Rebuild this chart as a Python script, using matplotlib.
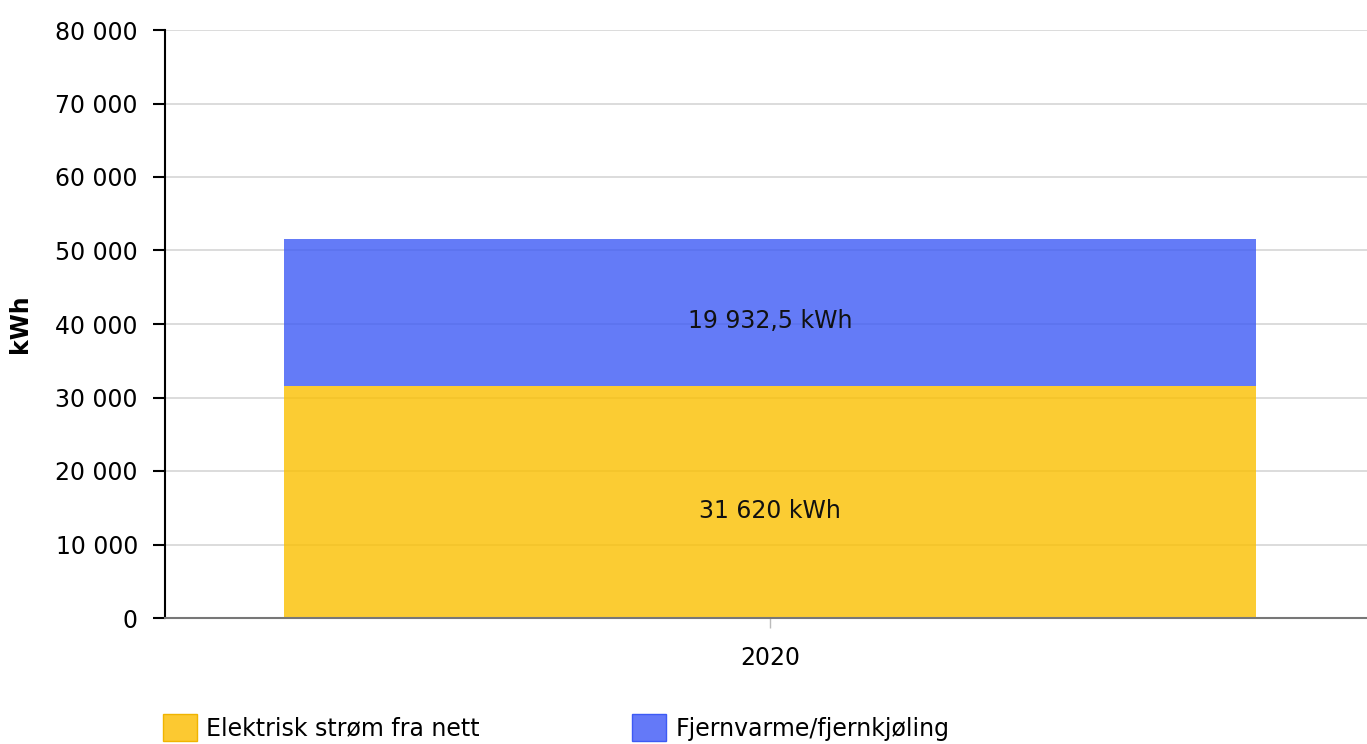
import matplotlib as _mpl
_mpl.use("Agg")
import matplotlib.pyplot as plt
from matplotlib.ticker import FuncFormatter

categories = ["2020"]
series_names = ["Elektrisk strøm fra nett", "Fjernvarme/fjernkjøling"]
elektrisk = [31620]
fjernvarme = [19932.5]
y_ticks = [0, 10000, 20000, 30000, 40000, 50000, 60000, 70000, 80000]


def fmt_no(v, decimals=None):
    if decimals is None:
        decimals = 0 if float(v).is_integer() else 1
    s = f"{v:,.{decimals}f}"
    return s.replace(",", " ").replace(".", ",")


plt.rcParams["font.family"] = ["DejaVu Sans"]
plt.rcParams["font.size"] = 17

fig = plt.figure(figsize=(13.67, 7.44), dpi=100)
ax = fig.add_axes([165 / 1367, 1 - 618 / 744, 1210 / 1367, 588 / 744])

xs = list(range(len(categories)))
ax.bar(xs, elektrisk, width=0.8025, color="#fbc000", alpha=0.8,
       label=series_names[0], zorder=1)
ax.bar(xs, fjernvarme, width=0.8025, bottom=elektrisk, color="#3d5af5",
       alpha=0.8, label=series_names[1], zorder=1)

for x, v1, v2 in zip(xs, elektrisk, fjernvarme):
    ax.annotate(fmt_no(v1) + " kWh", (x, v1 / 2), xytext=(0, -6.5),
                textcoords="offset points", ha="center", va="center",
                fontsize=17, color="#111111", zorder=3)
    ax.annotate(fmt_no(v2) + " kWh", (x, v1 + v2 / 2), xytext=(0, -6.5),
                textcoords="offset points", ha="center", va="center",
                fontsize=17, color="#111111", zorder=3)

ax.set_xlim(-0.5, 0.5)
ax.set_ylim(0, 80000)
ax.set_xticks(xs)
ax.set_xticklabels(categories)
ax.set_yticks(y_ticks)
ax.yaxis.set_major_formatter(FuncFormatter(lambda v, p: fmt_no(v, 0)))

ax.grid(axis="y", color="#d9d9d9", linewidth=1.3, zorder=0)
ax.set_axisbelow(True)
for side in ("top", "right"):
    ax.spines[side].set_visible(False)
ax.spines["left"].set_color("black")
ax.spines["left"].set_linewidth(1.5)
ax.spines["bottom"].set_color("#777777")
ax.spines["bottom"].set_linewidth(1.5)
ax.tick_params(axis="y", length=9, width=1.5, color="black", pad=10.5)
ax.tick_params(axis="x", length=7, width=1, color="#bbbbbb", pad=13)

ax.set_ylabel("kWh", fontweight="bold", fontsize=17, labelpad=17)

handles = [plt.Rectangle((0, 0), 1, 1, facecolor="#fcc931", edgecolor="#f0b400"),
           plt.Rectangle((0, 0), 1, 1, facecolor="#6479f8", edgecolor="#3d5af5")]
fig.legend(handles, series_names, loc="upper left",
           bbox_to_anchor=(154 / 1367, 1 - 705 / 744), ncol=2, frameon=False,
           handlelength=1.44, handleheight=1.35, handletextpad=0.38,
           columnspacing=6.45, fontsize=17, borderaxespad=0)

fig.savefig("out.png", dpi=100)
